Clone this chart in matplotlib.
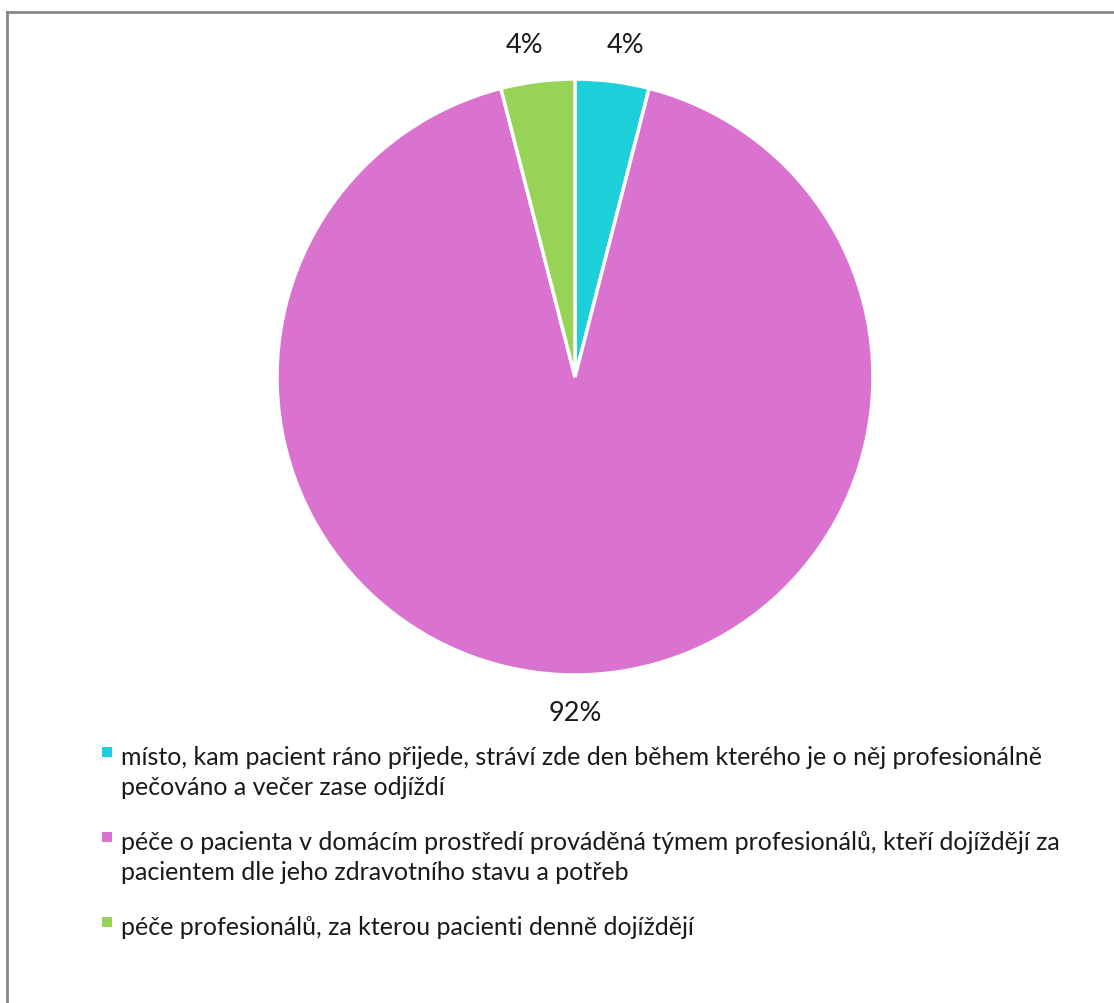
import matplotlib
matplotlib.use("Agg")
import matplotlib.pyplot as plt
from matplotlib.patches import Rectangle
from matplotlib.lines import Line2D

# share of answers per option
values = [4, 92, 4]
colors = ["#1ccfd8", "#da73cf", "#97d356"]
legend_lines = [
    ["místo, kam pacient ráno přijede, stráví zde den během kterého je o něj profesionálně",
     "pečováno a večer zase odjíždí"],
    ["péče o pacienta v domácím prostředí prováděná týmem profesionálů, kteří dojíždějí za",
     "pacientem dle jeho zdravotního stavu a potřeb"],
    ["péče profesionálů, za kterou pacienti denně dojíždějí"],
]

plt.rcParams["font.family"] = ["Lato", "DejaVu Sans"]

W, H = 1114, 1004
fig = plt.figure(figsize=(W / 100, H / 100), dpi=100)

# pie centred at (575, 378) px with radius 298 px
cx, cy, r = 575, 378, 298
ax = fig.add_axes([(cx - r) / W, (H - cy - r) / H, 2 * r / W, 2 * r / H])
wedges, texts, autotexts = ax.pie(
    values, colors=colors, startangle=90, counterclock=False,
    autopct=lambda p: f"{p:.0f}%", pctdistance=1.125,
    wedgeprops=dict(edgecolor="white", linewidth=2.5),
    textprops=dict(fontsize=19.5, color="#1a1a1a"))
# spread the two small labels a little so they don't crowd the top
for t in autotexts:
    x, y = t.get_position()
    t.set_position((x * 1.2, y))
    t.set_va("center")
ax.set_xlim(-1, 1)
ax.set_ylim(-1, 1)
ax.set_aspect("equal")
ax.axis("off")

# legend below the pie
baselines = [765, 850, 935]
line_gap = 30
for lines, color, base in zip(legend_lines, colors, baselines):
    fig.patches.append(Rectangle((102 / W, 1 - (base - 7) / H), 10 / W, 10 / H,
                                 transform=fig.transFigure, facecolor=color,
                                 edgecolor="none"))
    for i, txt in enumerate(lines):
        fig.text(121 / W, 1 - (base + i * line_gap) / H, txt, fontsize=18,
                 color="#1a1a1a", va="baseline", ha="left")

# chart frame
fig.lines.append(Line2D([7 / W, 7 / W], [0, 1 - 13 / H], transform=fig.transFigure,
                        color="#868686", linewidth=2))
fig.lines.append(Line2D([7 / W, 1], [1 - 13 / H, 1 - 13 / H], transform=fig.transFigure,
                        color="#868686", linewidth=2))

fig.savefig("out.png", dpi=100)
